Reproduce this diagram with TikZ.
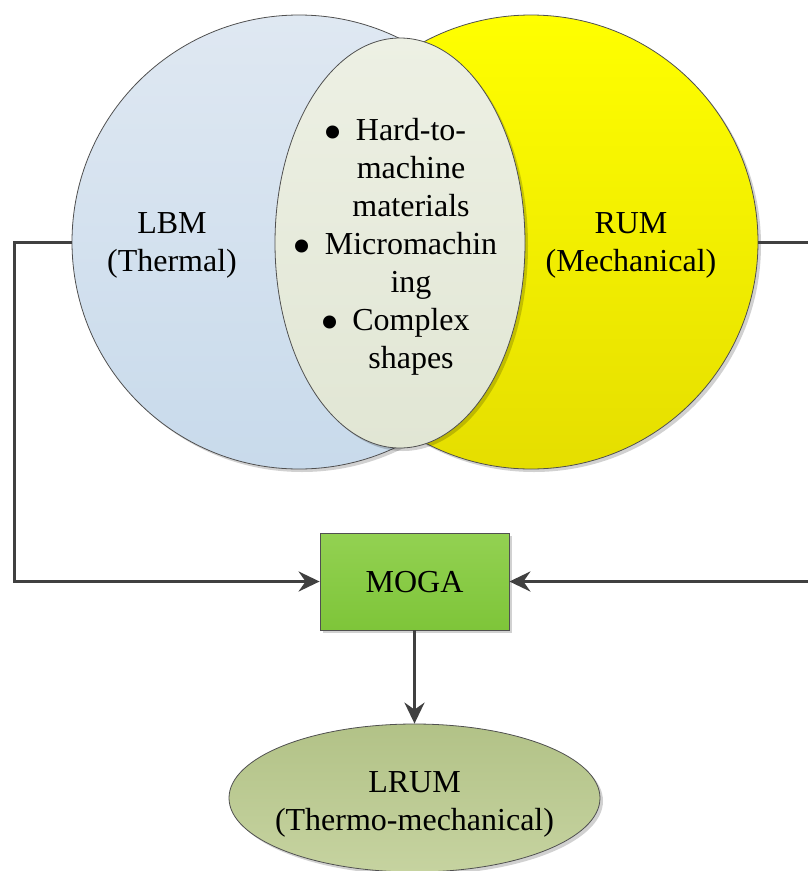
\documentclass[tikz,border=0pt]{standalone}
\usepackage{fontspec}
\setmainfont{Liberation Serif}
\usetikzlibrary{shapes.geometric,arrows.meta,shadows}

\definecolor{lbmtop}{HTML}{DFE8F2}
\definecolor{lbmbot}{HTML}{C8DAEB}
\definecolor{rumtop}{HTML}{FFFF00}
\definecolor{rumbot}{HTML}{E5DE00}
\definecolor{midtop}{HTML}{EDF0E4}
\definecolor{midbot}{HTML}{E1E6D4}
\definecolor{mogatop}{HTML}{93D152}
\definecolor{mogabot}{HTML}{7EC539}
\definecolor{lrumtop}{HTML}{B2C287}
\definecolor{lrumbot}{HTML}{C6D3A0}
\definecolor{edge}{HTML}{505050}
\definecolor{wire}{HTML}{404040}

\newcommand{\bigbullet}{\llap{\raisebox{-9.5pt}{\scalebox{1.7}{\textbullet}}\hspace{13pt}}}

\tikzset{
  shade/.style={drop shadow={shadow xshift=3pt, shadow yshift=-3pt, opacity=0.18, fill=black}},
  venn/.style={circle, draw=edge, line width=0.8pt, minimum size=454pt, inner sep=0pt, shade},
  oval/.style={ellipse, draw=edge, line width=0.8pt, inner sep=0pt, shade},
  block/.style={rectangle, draw=edge, line width=0.8pt, inner sep=0pt, shade},
  txt/.style={align=center, font=\rmfamily\fontsize{32}{38}\selectfont, inner sep=0pt},
  conn/.style={draw=wire, line width=3pt},
  arrow/.style={conn, -{Stealth[length=21pt, width=20pt, inset=7pt]}},
}

\begin{document}
\begin{tikzpicture}[x=1pt, y=-1pt]
  \useasboundingbox (0,0) rectangle (808,871);

  % Venn diagram of the two processes and their overlap
  \node[venn, top color=lbmtop, bottom color=lbmbot] (lbm) at (299,242) {};
  \node[venn, top color=rumtop, bottom color=rumbot] (rum) at (531,242) {};
  \node[oval, minimum width=250pt, minimum height=410pt,
        top color=midtop, bottom color=midbot] (mid) at (400,243) {};

  \node[txt] (lbmtext) at (172,245) {LBM\\(Thermal)};
  \node[txt] (rumtext) at (631,245) {RUM\\(Mechanical)};
  \node[txt] (midtext) at (411,247) {%
    \bigbullet Hard-to-\\machine\\materials\\
    \bigbullet Micromachin\\ing\\
    \bigbullet Complex\\shapes};

  % Optimiser and resulting hybrid process
  \node[block, minimum width=189pt, minimum height=97pt,
        top color=mogatop, bottom color=mogabot] (moga) at (414.5,581.5) {};
  \node[txt] (mogatext) at (414.5,582) {MOGA};

  \node[oval, minimum width=371pt, minimum height=148pt,
        top color=lrumtop, bottom color=lrumbot] (lrum) at (414.5,798) {};
  \node[txt] (lrumtext) at (414.5,804) {LRUM\\(Thermo-mechanical)};

  % Connectors
  \coordinate (lcorner) at (14,242);
  \coordinate (rcorner) at (816,242);
  \draw[arrow] (lbm.west) -- (lcorner) |- (moga.west);
  \draw[arrow] (rum.east) -- (rcorner) |- (moga.east);
  \draw[arrow] (moga.south) -- (lrum.north);
\end{tikzpicture}
\end{document}
